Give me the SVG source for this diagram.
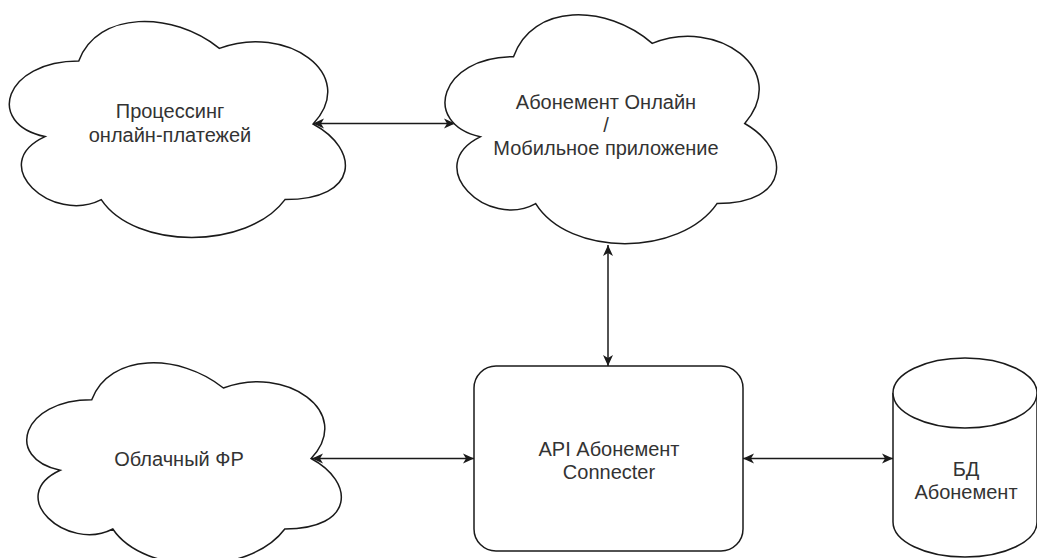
<svg xmlns="http://www.w3.org/2000/svg" width="1037" height="558" viewBox="0 0 1037 558">
<defs>
<style>
.shape{fill:#fff;stroke:#1a1a1a;stroke-width:1.5}
.lbl{font-family:"Liberation Sans",Arial,sans-serif;font-size:20px;fill:#333;text-anchor:middle}
.conn{fill:none;stroke:#1a1a1a;stroke-width:1.5}
</style>
<marker id="arr" viewBox="0 0 11 11" markerWidth="11" markerHeight="11" refX="11" refY="5.5" orient="auto-start-reverse" markerUnits="userSpaceOnUse">
<path d="M0,0.5 L11,5.5 L0,10.5 L3,5.5 Z" fill="#1a1a1a"/>
</marker>
</defs>
<rect width="1037" height="558" fill="#fff"/>
<g id="connectors">
<path class="conn" d="M313,123.5 H455" marker-start="url(#arr)" marker-end="url(#arr)"/>
<path class="conn" d="M608,245 V366" marker-start="url(#arr)" marker-end="url(#arr)"/>
<path class="conn" d="M312,458.5 H474" marker-start="url(#arr)" marker-end="url(#arr)"/>
<path class="conn" d="M743,458.5 H893" marker-start="url(#arr)" marker-end="url(#arr)"/>
</g>
<g id="node-processing">
<path class="shape" d="M78.75,61 C3.75,61 -15,124 45,136.6 C-15,164.3 52.5,224.8 101.25,199.6 C135,250 247.5,250 285,199.6 C360,199.6 360,149.2 313.1,124 C360,73.6 285,23.2 219.4,48.4 C172.5,10.6 97.5,10.6 78.75,61 Z"/>
<text class="lbl" x="170" y="118">Процессинг</text>
<text class="lbl" x="170" y="142">онлайн-платежей</text>
</g>
<g id="node-online">
<path class="shape" d="M513.5,56.75 C439.5,56.75 421,123.5 480.2,136.85 C421,166.2 487.6,230.3 535.7,203.6 C569,257 680,257 717,203.6 C791,203.6 791,150.2 744.75,123.5 C791,70.1 717,16.7 652.25,43.4 C606,3.35 532,3.35 513.5,56.75 Z"/>
<text class="lbl" x="606" y="108.5">Абонемент Онлайн</text>
<text class="lbl" x="606" y="131.5">/</text>
<text class="lbl" x="606" y="155">Мобильное приложение</text>
</g>
<g id="node-cloudfr">
<path class="shape" d="M91.75,399.75 C21.55,399.75 4,458.5 60.16,470.25 C4,496.1 67.18,552.5 112.8,529 C144.4,576 249.7,576 284.8,529 C355,529 355,482 311.1,458.5 C355,411.5 284.8,364.5 223.4,388 C179.5,352.75 109.3,352.75 91.75,399.75 Z"/>
<text class="lbl" x="179" y="466">Облачный ФР</text>
</g>
<g id="node-api">
<rect class="shape" x="474" y="366" width="269" height="185" rx="22" ry="22"/>
<text class="lbl" x="609" y="455.5">API Абонемент</text>
<text class="lbl" x="609" y="478.5">Connecter</text>
</g>
<g id="node-db">
<path class="shape" d="M893,393 V522 A72,35 0 0 0 1037,522 V393"/>
<ellipse class="shape" cx="965" cy="393" rx="72" ry="35"/>
<text class="lbl" x="966" y="476">БД</text>
<text class="lbl" x="966" y="499">Абонемент</text>
</g>
</svg>
